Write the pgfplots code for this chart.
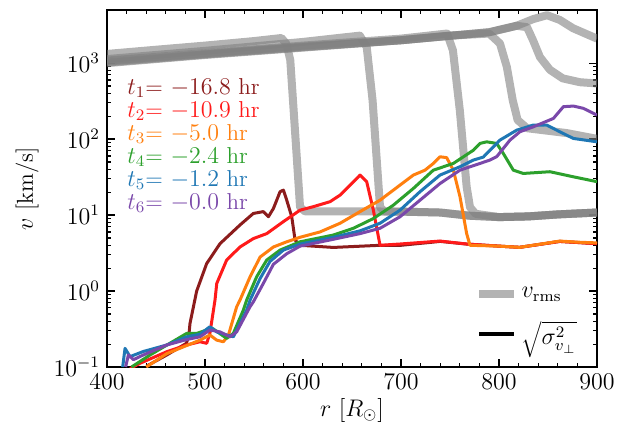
\documentclass[border=0pt]{standalone}
\usepackage{pgfplots}
\pgfplotsset{compat=1.18}

\definecolor{cA}{HTML}{8C1C1C}
\definecolor{cB}{HTML}{FF1A1A}
\definecolor{cC}{HTML}{FF7F0E}
\definecolor{cD}{HTML}{2CA02C}
\definecolor{cE}{HTML}{1F77B4}
\definecolor{cF}{HTML}{7A48AA}
\newcommand\fs{\fontsize{11.5}{14}\selectfont}

\begin{document}
\begin{tikzpicture}
\begin{axis}[
  name=ax,
  scale only axis,
  width=245pt, height=178.5pt,
  xmin=400, xmax=900,
  ymode=log, ymin=0.1, ymax=5000,
  xtick={400,500,...,900},
  minor x tick num=4,
  ytick={0.1,1,10,100,1000},
  tick align=inside,
  major tick length=4pt, minor tick length=2pt,
  every tick/.style={black, line width=0.6pt},
  axis line style={line width=1pt},
  tick label style={font=\fs},
  label style={font=\fs},
  xlabel={$r\ [R_\odot]$},
  ylabel={$v$ [km/s]},
  xlabel style={at={(axis description cs:0.5,0)}, anchor=center, yshift=-21.5pt},
  ylabel style={at={(axis description cs:-0.163,0.5)}, anchor=center},
  legend style={at={(0.98,0.03)}, anchor=south east, draw=none, fill=none, font=\fs, row sep=6pt},
  legend cell align=left,
  every axis plot/.append style={line join=round},
]
% v_rms
\addplot[forget plot, gray, opacity=0.6, line width=4pt] coordinates {
(400,1320) (450,1500) (500,1700) (550,1950) (578,2140) (583,1800) (587,1100) (592,120) (597,12.7) (602,11.2) (650,11.2) (700,11.1) (740,10.8) (770,9.8) (800,9.4) (830,9.6) (860,10.2) (900,10.8)};
\addplot[forget plot, gray, opacity=0.6, line width=4pt] coordinates {
(400,1130) (500,1450) (600,1900) (658,2300) (665,1630) (671,324) (678.6,12.7) (683,11.2) (700,11.1) (740,10.8) (770,9.8) (800,9.4) (830,9.6) (860,10.2) (900,10.8)};
\addplot[forget plot, gray, opacity=0.6, line width=4pt] coordinates {
(400,1080) (500,1350) (600,1700) (700,2100) (747,2450) (753,1470) (760,240) (767,23.5) (770.4,12.7) (776,10.4) (800,9.4) (830,9.6) (860,10.2) (900,10.8)};
\addplot[forget plot, gray, opacity=0.6, line width=4pt] coordinates {
(400,1050) (500,1320) (600,1650) (700,2000) (750,2300) (790,2450) (801,1810) (808,890) (814,325) (819,178) (828.6,139) (845,131) (869,120) (896,103) (900,101)};
\addplot[forget plot, gray, opacity=0.6, line width=4pt] coordinates {
(400,1020) (500,1300) (600,1620) (700,2000) (790,2550) (818,3100) (828.6,2970) (834.7,2000) (841.8,1200) (852,815) (865,630) (882.7,560) (900,540)};
\addplot[forget plot, gray, opacity=0.6, line width=4pt] coordinates {
(400,1000) (500,1280) (600,1600) (700,2000) (790,2550) (818,3100) (835,3800) (849,4270) (862,3700) (875.5,2880) (900,2100)};
% sigma
\addplot[forget plot, cA, line width=1.5pt] coordinates {
(440.5,0.103) (461,0.144) (481,0.205) (483.5,0.26) (484.7,0.375) (491.5,1.0) (501.7,2.3) (515.3,4.2) (535.7,7.4) (549.3,10.5) (559.5,11.1) (564.7,9.5) (569.8,12.2) (576.6,20.3) (580,21.3) (583.4,15.7) (588.5,9.5) (591.9,4.7) (597,4.0) (631,3.75) (678.6,4.0) (700,4.0) (740,4.5) (767,4.15) (800,3.9) (821,3.76) (862,4.5) (900,4.2)};
\addplot[forget plot, cB, line width=1.5pt] coordinates {
(423.5,0.095) (433.7,0.112) (461,0.159) (481.3,0.195) (494.9,0.215) (501.7,0.205) (505,0.277) (510.2,0.76) (512,1.26) (522.1,2.56) (535.7,3.8) (549.3,4.9) (563,5.7) (580,8.2) (597,11.6) (610.6,12.9) (627.6,15) (637.8,18.3) (651.4,27.4) (658.2,33.6) (665,27.4) (671.8,11.6) (678.6,4.0) (699,4.16) (739.8,4.55) (767,4.16) (800,3.9) (821,3.76) (862,4.5) (900,4.2)};
\addplot[forget plot, cC, line width=1.5pt] coordinates {
(440,0.1) (461,0.15) (494.9,0.226) (505,0.264) (511.9,0.226) (518.7,0.215) (523.8,0.26) (532.3,0.62) (535.7,0.76) (546,1.54) (556.2,2.8) (569.8,3.8) (583.4,4.45) (597,5.1) (617.4,6.0) (637.8,7.8) (658.2,11.1) (678.6,15.7) (699,24.8) (712.6,33.6) (724.5,39) (733,47.8) (739.8,58.5) (746.6,57) (753.4,39) (760.2,17.4) (767,5.7) (770.4,4.0) (800,3.9) (821,3.76) (840,4.1) (862,4.55) (880,4.4) (900,4.3)};
\addplot[forget plot, cD, line width=1.5pt] coordinates {
(425,0.1) (443.9,0.144) (481.3,0.277) (491.5,0.277) (501.7,0.307) (508,0.32) (522.1,0.238) (528.9,0.277) (539.1,0.56) (542.5,0.76) (552.7,1.54) (563,2.56) (576.6,3.46) (597,4.45) (631,5.46) (651.4,6.7) (671.8,9.0) (692.2,13.5) (712.6,22.4) (733,39) (753.4,47.8) (774,71.6) (780.6,87.7) (787.4,92) (797.6,87.7) (804.4,64.7) (814.6,39) (824.8,35.3) (852,37.2) (875.8,31.9) (900,27.5)};
\addplot[forget plot, cE, line width=1.5pt] coordinates {
(416,0.1) (418.4,0.176) (423.5,0.137) (437,0.16) (461,0.195) (481.3,0.25) (494.9,0.27) (505,0.339) (512,0.29) (522,0.264) (528.9,0.25) (542.5,0.56) (546,0.76) (556.2,1.46) (566.3,2.45) (580,3.46) (597,4.15) (631,5.1) (658.2,6.2) (678.6,7.8) (699,11.6) (719.4,20.3) (739.8,33.6) (760.2,43.3) (774,53) (784,58) (801,97) (818,131) (835,153) (848.6,153) (862,125) (875.8,102) (900,92)};
\addplot[forget plot, cF, line width=1.5pt] coordinates {
(419,0.1) (421.8,0.144) (427,0.125) (437,0.144) (461,0.195) (481.3,0.23) (494.9,0.25) (505,0.307) (515.3,0.29) (525.5,0.25) (532.3,0.29) (545.9,0.62) (549.3,0.72) (559.5,1.26) (569.8,2.25) (583.4,3.1) (597,3.9) (631,4.8) (658.2,5.7) (678.6,6.7) (699,9.5) (719.4,15.7) (739.8,26) (760.2,39) (780.6,47.8) (790.8,53) (797.6,58.6) (811.2,97) (821.4,125) (835,145) (855.5,187) (865.7,267) (876,272) (886,254) (900,207)};
\addlegendimage{gray, opacity=0.6, line width=4pt}
\addlegendentry{$v_{\rm rms}$}
\addlegendimage{black, line width=2pt}
\addlegendentry{$\sqrt{\sigma^2_{v_\perp}}$}
\node[anchor=west, text=cA, font=\fs, inner sep=0pt] at (rel axis cs:0.041,0.7815) {$t_1$= $-16.8$ hr};
\node[anchor=west, text=cB, font=\fs, inner sep=0pt] at (rel axis cs:0.041,0.717) {$t_2$= $-10.9$ hr};
\node[anchor=west, text=cC, font=\fs, inner sep=0pt] at (rel axis cs:0.041,0.653) {$t_3$= $-5.0$ hr};
\node[anchor=west, text=cD, font=\fs, inner sep=0pt] at (rel axis cs:0.041,0.588) {$t_4$= $-2.4$ hr};
\node[anchor=west, text=cE, font=\fs, inner sep=0pt] at (rel axis cs:0.041,0.524) {$t_5$= $-1.2$ hr};
\node[anchor=west, text=cF, font=\fs, inner sep=0pt] at (rel axis cs:0.041,0.459) {$t_6$= $-0.0$ hr};
\end{axis}
\pgfresetboundingbox
\path[use as bounding box] ([shift={(-53.5pt,-34.5pt)}]ax.south west) rectangle ([shift={(10.5pt,5pt)}]ax.north east);
\end{tikzpicture}
\end{document}
